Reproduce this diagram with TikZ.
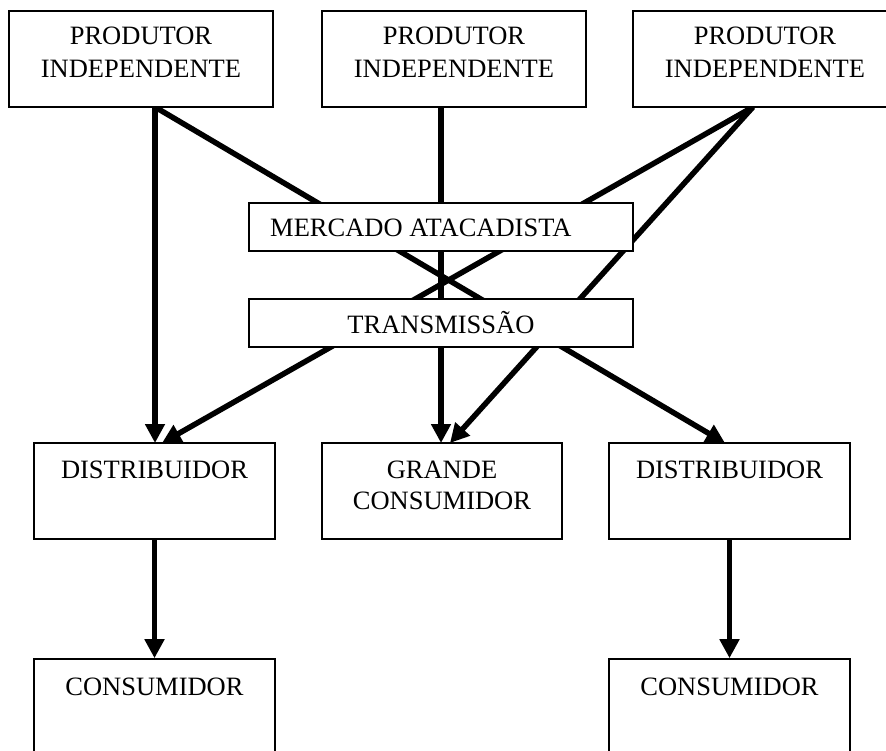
\documentclass[tikz,border=0pt]{standalone}
\usepackage{fontspec}
\setmainfont{Liberation Serif}
\usetikzlibrary{arrows.meta}
\pgfdeclarelayer{wires}
\pgfsetlayers{wires,main}
\begin{document}
\begin{tikzpicture}[x=1pt,y=-1pt,
  box/.style={draw, line width=1.6pt, fill=white, inner sep=0pt},
  lbl/.style={inner sep=0pt, align=center, font=\fontsize{26.5}{33}\selectfont},
  flow/.style={line width=5.5pt, -{Triangle[length=19pt,width=19pt]}}]
\useasboundingbox (0,0) rectangle (886,751);

% producers (two-line labels sit on the baseline of their last line)
\node[box, minimum width=264pt, minimum height=96pt] (p1) at (141,59) {};
\node[box, minimum width=264pt, minimum height=96pt] (p2) at (454,59) {};
\node[box, minimum width=264pt, minimum height=96pt] (p3) at (765,59) {};
\node[lbl, anchor=base] (p1t) at (141,78) {PRODUTOR\\INDEPENDENTE};
\node[lbl, anchor=base] (p2t) at (454,78) {PRODUTOR\\INDEPENDENTE};
\node[lbl, anchor=base] (p3t) at (765,78) {PRODUTOR\\INDEPENDENTE};

% market and transmission bars
\node[box, minimum width=384pt, minimum height=48pt] (mk) at (441,227) {};
\node[lbl, anchor=base west] (mkt) at (270,237) {MERCADO ATACADISTA};
\node[box, minimum width=384pt, minimum height=48pt] (tr) at (441,323) {};
\node[lbl, anchor=base] (trt) at (441,333) {TRANSMISSÃO};

% distributors and large consumer
\node[box, minimum width=241pt, minimum height=96pt] (d1) at (154.5,491) {};
\node[box, minimum width=240pt, minimum height=96pt] (gc) at (442,491) {};
\node[box, minimum width=241pt, minimum height=96pt] (d2) at (729.5,491) {};
\node[lbl, anchor=base] (d1t) at (154.5,478) {DISTRIBUIDOR};
\node[lbl, anchor=base, font=\fontsize{26.5}{31}\selectfont] (gct) at (442,509) {GRANDE\\CONSUMIDOR};
\node[lbl, anchor=base] (d2t) at (729.5,478) {DISTRIBUIDOR};

% final consumers
\node[box, minimum width=241pt, minimum height=132pt] (c1) at (154.5,725) {};
\node[box, minimum width=241pt, minimum height=132pt] (c2) at (729.5,725) {};
\node[lbl, anchor=base] (c1t) at (154.5,695) {CONSUMIDOR};
\node[lbl, anchor=base] (c2t) at (729.5,695) {CONSUMIDOR};

% connector end points on the box edges
\coordinate (p1o) at (155,107);
\coordinate (p2o) at (441,107);
\coordinate (p3o) at (753,107);
\coordinate (d1a) at (155,443);
\coordinate (d1b) at (162,443);
\coordinate (gca) at (441,443);
\coordinate (gcb) at (450,443);
\coordinate (d2a) at (725,443);

\begin{pgfonlayer}{wires}
\draw[flow] (p1o) -- (d1a);
\draw[flow] (p1o) -- (d2a);
\draw[flow] (p2o) -- (gca);
\draw[flow] (p3o) -- (d1b);
\draw[flow] (p3o) -- (gcb);
\draw[flow] (d1.south) -- (c1.north);
\draw[flow] (d2.south) -- (c2.north);
\end{pgfonlayer}
\end{tikzpicture}
\end{document}
